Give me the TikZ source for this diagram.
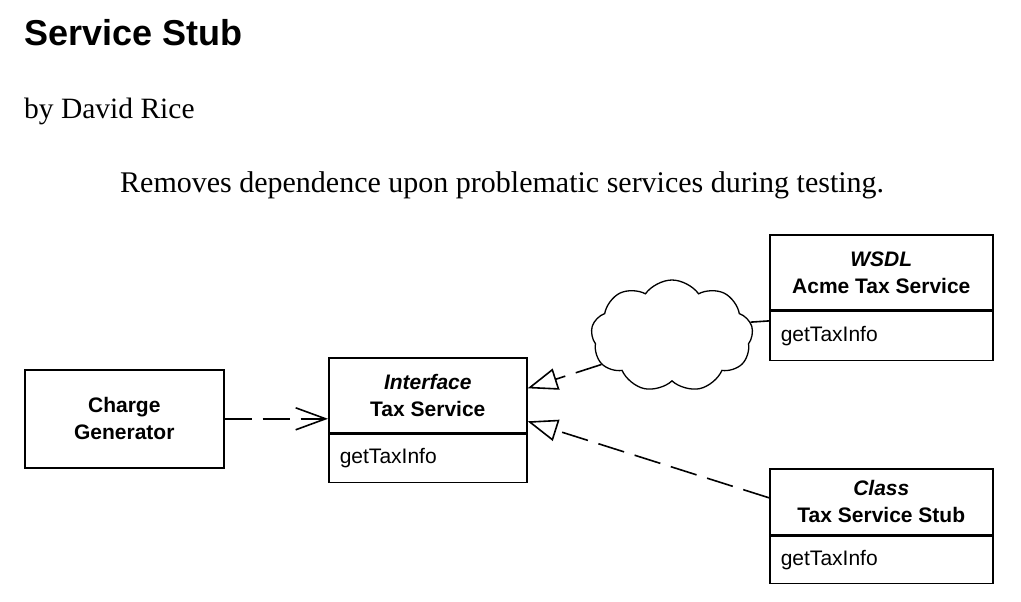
\documentclass[tikz,border=0pt]{standalone}
\usepackage{fontspec}
\setmainfont{Liberation Serif}
\setsansfont{Liberation Sans}
\usetikzlibrary{positioning, shapes.symbols, arrows.meta}

\begin{document}
\begin{tikzpicture}[
        x=1pt, y=-1pt,
        % Стиль рамок
        box/.style = {draw, line width=1.6pt, inner sep=0pt, anchor=north west, align=center,
                font=\sffamily\bfseries\fontsize{21}{27}\selectfont},
        ops/.style = {draw, line width=1.6pt, inner xsep=11pt, inner ysep=0pt, anchor=north,
                align=left, font=\sffamily\fontsize{21}{26}\selectfont},
        dep/.style = {line width=1.6pt, dash pattern=on 27pt off 11pt},
        txt/.style = {inner sep=0pt, anchor=base west},
    ]
    \useasboundingbox (0,0) rectangle (1021,602);

    % Заголовок
    \node[txt, font=\sffamily\bfseries\fontsize{36}{40}\selectfont] (title) at (24,46) {Service Stub};
    \node[txt, font=\fontsize{29.5}{33}\selectfont] (author) at (24,118) {by David Rice};
    \node[txt, font=\fontsize{30}{34}\selectfont] (intent) at (120,192) {Removes dependence upon problematic services during testing.};

    % Классы
    \node[box, minimum width=199pt, minimum height=98pt] (cg) at (24,369) {Charge\\Generator};

    \node[box, minimum width=198pt, minimum height=75pt] (tsh) at (328,357) {\itshape Interface\\Tax Service};
    \node[ops, minimum height=48pt, text width=176pt, below=0pt of tsh] (tsb) {getTaxInfo};

    \node[box, minimum width=223pt, minimum height=75pt] (wsh) at (769,234) {\itshape WSDL\\Acme Tax Service};
    \node[ops, minimum height=49pt, text width=201pt, below=0pt of wsh] (wsb) {getTaxInfo};

    \node[box, minimum width=223pt, minimum height=66pt] (csh) at (769,468) {\itshape Class\\Tax Service Stub};
    \node[ops, minimum height=47pt, text width=201pt, below=0pt of csh] (csb) {getTaxInfo};

    % Облако
    \node[cloud, draw, line width=1.3pt, cloud puffs=9, cloud puff arc=110, aspect=1.45,
        minimum width=162pt, minimum height=112pt] (net) at (672,336) {};

    % Связи
    \draw[dep, -{Straight Barb[length=30pt, width=22pt]}] (cg) -- (tsh.west |- cg);
    \draw[dep, -{Triangle[open, length=30pt, width=22pt]}] (net.202) -- ([yshift=7pt]tsh.east);
    \draw[dep, -{Triangle[open, length=30pt, width=22pt]}] ([yshift=4pt]csh.west) -- ([yshift=-26pt]tsh.east);
    \draw[line width=1.6pt] (net.10) -- ([yshift=15pt]wsb.west);

\end{tikzpicture}
\end{document}
